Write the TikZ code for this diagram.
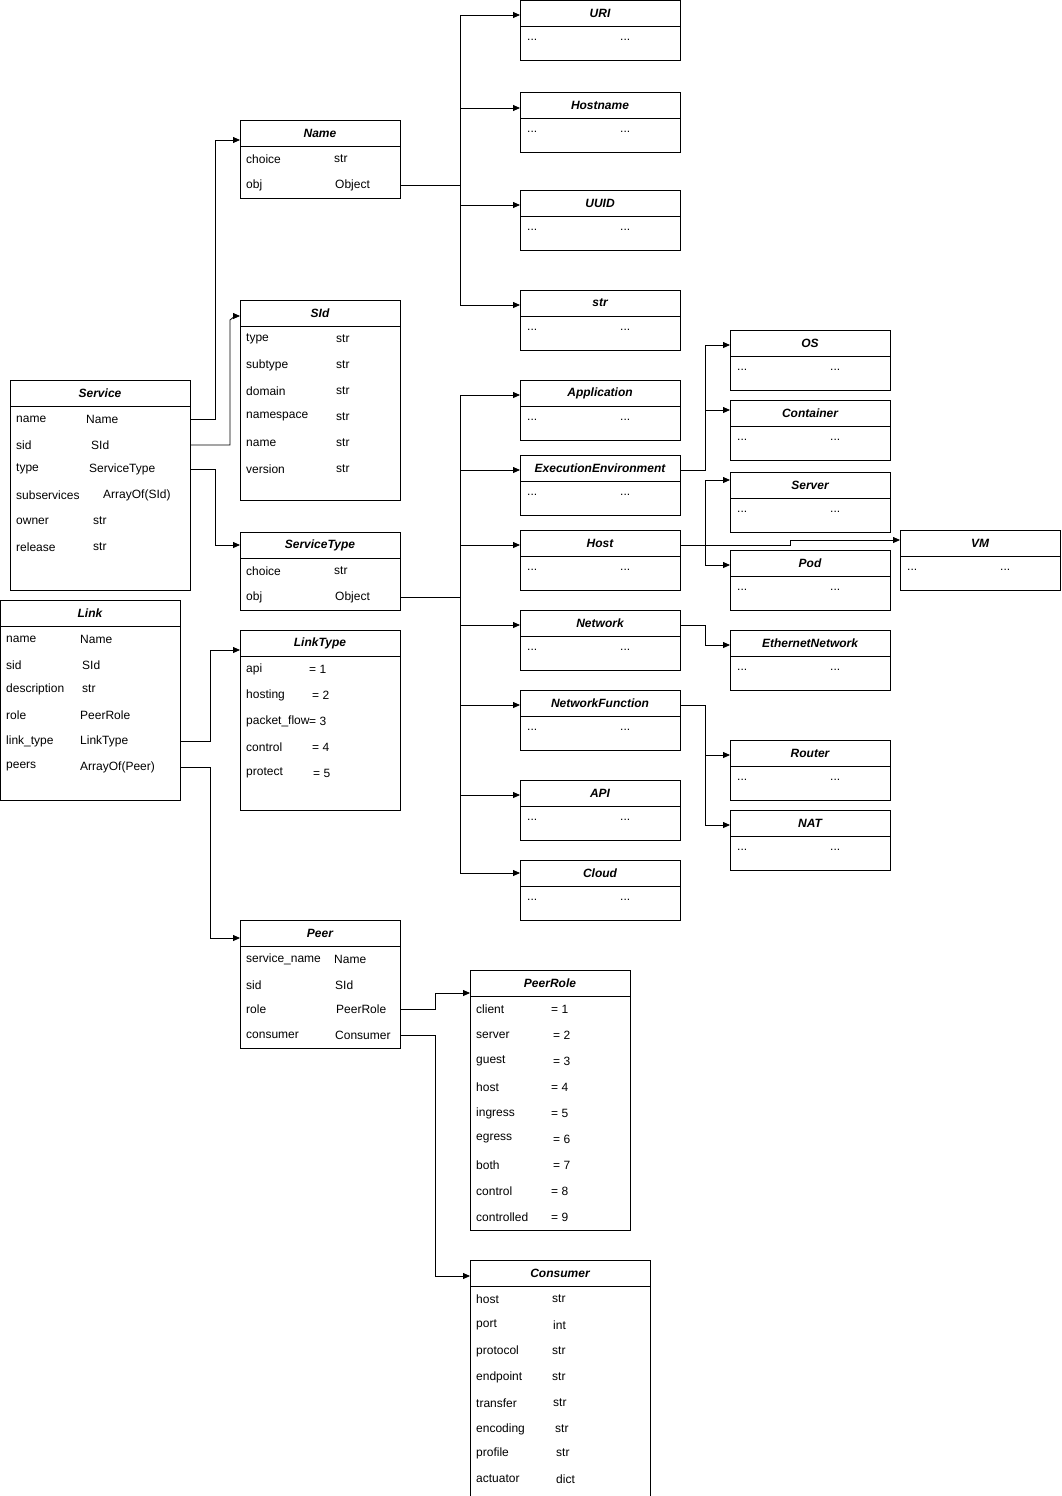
\documentclass[tikz,border=0pt]{standalone}
\usepackage{fontspec}
\setmainfont{Liberation Sans}
\usetikzlibrary{arrows.meta}
\tikzset{
  box/.style={draw,thick,line width=0.8pt,inner sep=0,anchor=north west},
  ttl/.style={font=\fontsize{12}{14}\selectfont\bfseries\itshape},
  rowt/.style={anchor=west,inner sep=0,font=\fontsize{12}{14}\selectfont},
  arr/.style={line width=0.8pt,-{Triangle[length=7pt,width=6pt]}}
}
% #1 name, #2 x1, #3 y1, #4 x2, #5 y2, #6 title
\newcommand\cls[6]{%
  \node[box,minimum width={(#4-#2)*1pt},minimum height={(#5-#3)*1pt}] (#1) at (#2,#3) {};
  \draw[line width=0.8pt] (#2,#3+26) -- (#4,#3+26);
  \node[ttl] at ({(#2+#4)/2},#3+13) {#6};}
\newcommand\rw[3]{\node[rowt] at (#1,#2) {#3};}
\newcommand\dotsrow[2]{\rw{#1+7}{#2+40}{...}\rw{#1+100}{#2+40}{...}}
\newcommand\dcls[4]{\cls{#1}{#2}{#3}{#2+160}{#3+60}{#4}\dotsrow{#2}{#3}}
\begin{document}
\begin{tikzpicture}[x=1pt,y=-1pt]
\useasboundingbox[fill=white] (0,0) rectangle (1061,1496);
\dcls{URI}{520}{0}{URI}
\dcls{Hostname}{520}{92}{Hostname}
\dcls{UUID}{520}{190}{UUID}
\dcls{strc}{520}{290}{str}
\dcls{App}{520}{380}{Application}
\dcls{Exec}{520}{455}{ExecutionEnvironment}
\dcls{Host}{520}{530}{Host}
\dcls{Net}{520}{610}{Network}
\dcls{NF}{520}{690}{NetworkFunction}
\dcls{API}{520}{780}{API}
\dcls{Cloud}{520}{860}{Cloud}
\dcls{OS}{730}{330}{OS}
\dcls{Cont}{730}{400}{Container}
\dcls{Server}{730}{472}{Server}
\dcls{Pod}{730}{550}{Pod}
\dcls{VM}{900}{530}{VM}
\dcls{Eth}{730}{630}{EthernetNetwork}
\dcls{Router}{730}{740}{Router}
\dcls{NAT}{730}{810}{NAT}
% Name
\cls{Name}{240}{120}{400}{198}{Name}
\rw{246}{159}{choice}\rw{334}{159}{str}
\rw{246}{185}{obj}\rw{335}{185}{Object}
% SId
\cls{SId}{240}{300}{400}{500}{SId}
\foreach \t/\y in {type/339,subtype/365,domain/391,namespace/417,name/443,version/469}{\rw{246}{\y}{\t}\rw{336}{\y}{str}}
% ServiceType
\cls{ST}{240}{532}{400}{610}{ServiceType}
\rw{246}{571}{choice}\rw{334}{571}{str}
\rw{246}{597}{obj}\rw{335}{597}{Object}
% Service
\cls{Service}{10}{380}{190}{590}{Service}
\rw{16}{419}{name}\rw{86}{419}{Name}
\rw{16}{445}{sid}\rw{91}{445}{SId}
\rw{16}{469}{type}\rw{89}{469}{ServiceType}
\rw{16}{495}{subservices}\rw{103}{495}{ArrayOf(SId)}
\rw{16}{521}{owner}\rw{93}{521}{str}
\rw{16}{547}{release}\rw{93}{547}{str}
% Link
\cls{Link}{0}{600}{180}{800}{Link}
\rw{6}{639}{name}\rw{80}{639}{Name}
\rw{6}{665}{sid}\rw{82}{665}{SId}
\rw{6}{689}{description}\rw{82}{689}{str}
\rw{6}{715}{role}\rw{80}{715}{PeerRole}
\rw{6}{741}{link\_type}\rw{80}{741}{LinkType}
\rw{6}{767}{peers}\rw{80}{767}{ArrayOf(Peer)}
% LinkType
\cls{LT}{240}{630}{400}{810}{LinkType}
\rw{246}{669}{api}\rw{309}{669}{= 1}
\rw{246}{695}{hosting}\rw{312}{695}{= 2}
\rw{246}{721}{packet\_flow}\rw{309}{721}{= 3}
\rw{246}{747}{control}\rw{312}{747}{= 4}
\rw{246}{773}{protect}\rw{313}{773}{= 5}
% Peer
\cls{Peer}{240}{920}{400}{1048}{Peer}
\rw{246}{959}{service\_name}\rw{334}{959}{Name}
\rw{246}{985}{sid}\rw{335}{985}{SId}
\rw{246}{1009}{role}\rw{336}{1009}{PeerRole}
\rw{246}{1035}{consumer}\rw{335}{1035}{Consumer}
% PeerRole
\cls{PR}{470}{970}{630}{1230}{PeerRole}
\foreach \t/\y/\c in {client/1009/551,server/1035/553,guest/1061/553,host/1087/551,ingress/1113/551,egress/1139/553,both/1165/553,control/1191/551,controlled/1217/551}{\rw{476}{\y}{\t}}
\rw{551}{1009}{= 1}\rw{553}{1035}{= 2}\rw{553}{1061}{= 3}\rw{551}{1087}{= 4}\rw{551}{1113}{= 5}\rw{553}{1139}{= 6}\rw{553}{1165}{= 7}\rw{551}{1191}{= 8}\rw{551}{1217}{= 9}
% Consumer
\cls{Cons}{470}{1260}{650}{1496}{Consumer}
\rw{476}{1299}{host}\rw{552}{1299}{str}
\rw{476}{1325}{port}\rw{553}{1325}{int}
\rw{476}{1351}{protocol}\rw{552}{1351}{str}
\rw{476}{1377}{endpoint}\rw{552}{1377}{str}
\rw{476}{1403}{transfer}\rw{553}{1403}{str}
\rw{476}{1429}{encoding}\rw{555}{1429}{str}
\rw{476}{1453}{profile}\rw{556}{1453}{str}
\rw{476}{1479}{actuator}\rw{556}{1479}{dict}
% connectors
\draw[arr] (190,419) -- (215,419) -- (215,140) -- (Name.west |- 0,140);
\draw[arr] (190,445) -- (230,445) -- (230,320) -- (235,316) -- (SId.west |- 0,316);
\draw[arr] (190,469) -- (215,469) -- (215,545) -- (ST.west |- 0,545);
\draw[line width=0.8pt] (400,185) -- (460,185);
\draw[arr] (460,185) -- (460,15) -- (URI.west |- 0,15);
\draw[arr] (460,108) -- (Hostname.west |- 0,108);
\draw[arr] (460,185) -- (460,205) -- (UUID.west |- 0,205);
\draw[arr] (460,205) -- (460,305) -- (strc.west |- 0,305);
\draw[line width=0.8pt] (400,597) -- (460,597);
\draw[arr] (460,597) -- (460,395) -- (App.west |- 0,395);
\draw[arr] (460,470) -- (Exec.west |- 0,470);
\draw[arr] (460,545) -- (Host.west |- 0,545);
\draw[arr] (460,597) -- (460,873) -- (Cloud.west |- 0,873);
\draw[arr] (460,625) -- (Net.west |- 0,625);
\draw[arr] (460,705) -- (NF.west |- 0,705);
\draw[arr] (460,795) -- (API.west |- 0,795);
\draw[arr] (680,470) -- (705,470) -- (705,345) -- (OS.west |- 0,345);
\draw[arr] (705,410) -- (Cont.west |- 0,410);
\draw[arr] (680,545) -- (790,545) -- (790,540) -- (VM.west |- 0,540);
\draw[arr] (680,545) -- (705,545) -- (705,480) -- (Server.west |- 0,480);
\draw[arr] (705,545) -- (705,565) -- (Pod.west |- 0,565);
\draw[arr] (680,625) -- (705,625) -- (705,645) -- (Eth.west |- 0,645);
\draw[arr] (680,705) -- (705,705) -- (705,755) -- (Router.west |- 0,755);
\draw[arr] (705,755) -- (705,825) -- (NAT.west |- 0,825);
\draw[arr] (180,741) -- (210,741) -- (210,650) -- (LT.west |- 0,650);
\draw[arr] (180,767) -- (210,767) -- (210,938) -- (Peer.west |- 0,938);
\draw[arr] (400,1009) -- (435,1009) -- (435,993) -- (PR.west |- 0,993);
\draw[arr] (400,1035) -- (435,1035) -- (435,1276) -- (Cons.west |- 0,1276);
\end{tikzpicture}
\end{document}
